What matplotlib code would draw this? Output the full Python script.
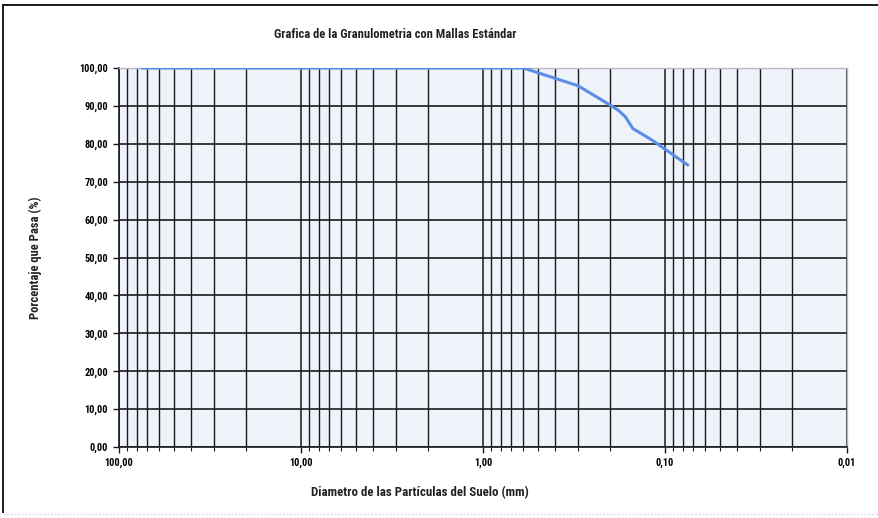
#!/usr/bin/env python3
"""Curva granulometrica con mallas estandar."""

import matplotlib as mpl
import matplotlib.pyplot as plt
from matplotlib import font_manager
from matplotlib.lines import Line2D
from matplotlib.ticker import FixedLocator, NullFormatter

# diametros de malla (mm) y porcentaje que pasa
diametros = [75.0, 50.0, 37.5, 25.0, 19.0, 9.5, 4.75, 2.0, 0.85, 0.6, 0.3, 0.2, 0.18, 0.165, 0.15, 0.118, 0.075]
pasa = [100.0, 100.0, 100.0, 100.0, 100.0, 100.0, 100.0, 100.0, 100.0, 100.0, 95.3, 90.2, 88.8, 87.1, 84.0, 81.0, 74.4]

x_ticks = [100, 10, 1, 0.1, 0.01]
x_labels = ["100,00", "10,00", "1,00", "0,10", "0,01"]
y_ticks = [0, 10, 20, 30, 40, 50, 60, 70, 80, 90, 100]
y_labels = ["0,00", "10,00", "20,00", "30,00", "40,00", "50,00", "60,00", "70,00", "80,00", "90,00", "100,00"]


def pick_narrow_font() -> list[str]:
    names = {f.name for f in font_manager.fontManager.ttflist}
    for cand in ("Liberation Sans Narrow", "DejaVu Sans Condensed", "Roboto Condensed", "Open Sans Condensed"):
        if cand in names:
            return [cand, "DejaVu Sans"]
    return ["DejaVu Sans"]


FONT = pick_narrow_font()
mpl.rcParams.update({"font.family": FONT, "font.weight": "bold", "font.stretch": "condensed"})

fig = plt.figure(figsize=(8.79, 5.18), dpi=100)
ax = fig.add_axes([119 / 879, 1 - 447 / 518, (847 - 119) / 879, (447 - 68) / 518])
ax.set_facecolor("#eef3fa")

ax.set_xscale("log")
ax.set_xlim(100, 0.01)
ax.set_ylim(0, 100)

# rejilla: verticales en cada decada y subdivisiones, horizontales cada 10 %
minors = [m * 10.0 ** e for e in range(-2, 2) for m in range(2, 10)]
for v in minors:
    ax.axvline(v, color="#1a1a1a", lw=1.0, zorder=1)
for v in x_ticks:
    ax.axvline(v, color="#1a1a1a", lw=1.1, zorder=1)
for v in y_ticks:
    ax.axhline(v, color="#1a1a1a", lw=1.2, zorder=1)

ax.plot(diametros, pasa, color="#5b8ee6", lw=2.2, zorder=3, solid_capstyle="round")

ax.xaxis.set_major_locator(FixedLocator(x_ticks))
ax.xaxis.set_minor_locator(FixedLocator(minors))
ax.xaxis.set_minor_formatter(NullFormatter())
ax.set_xticks(x_ticks)
ax.set_xticklabels(x_labels)
ax.set_yticks(y_ticks)
ax.set_yticklabels(y_labels)
ax.tick_params(axis="both", which="major", labelsize=7.5, length=4, width=1.0, color="#1a1a1a", pad=4)
ax.tick_params(axis="x", which="minor", length=3, width=0.8, color="#1a1a1a")

for side in ("left", "bottom"):
    ax.spines[side].set_color("#1a1a1a")
    ax.spines[side].set_linewidth(1.2)
for side in ("top", "right"):
    ax.spines[side].set_color("#b8b8c8")
    ax.spines[side].set_linewidth(1.0)

fig.text(395 / 879, 1 - 35 / 518, "Grafica de la Granulometria con Mallas Estándar",
         ha="center", va="center", fontsize=9, fontweight="bold", color="#222222")
fig.text(35 / 879, 1 - 258 / 518, "Porcentaje que Pasa (%)", rotation=90,
         ha="center", va="center", fontsize=9, fontweight="bold", color="#222222")
fig.text(420 / 879, 1 - 493 / 518, "Diametro de las Partículas del Suelo (mm)",
         ha="center", va="center", fontsize=9.3, fontweight="bold", color="#222222")

# marco del area del grafico
fig.add_artist(Line2D([3 / 879, 1.0], [1 - 5 / 518, 1 - 5 / 518], transform=fig.transFigure,
                      color="#1a1a1a", lw=1.4))
fig.add_artist(Line2D([3 / 879, 3 / 879], [1 - 5 / 518, 1 - 512 / 518], transform=fig.transFigure,
                      color="#1a1a1a", lw=1.4))
fig.add_artist(Line2D([3 / 879, 1.0], [1 - 514 / 518, 1 - 514 / 518], transform=fig.transFigure,
                      color="#d8d0e8", lw=1.0, ls=":"))

fig.savefig("out.png", dpi=100)
